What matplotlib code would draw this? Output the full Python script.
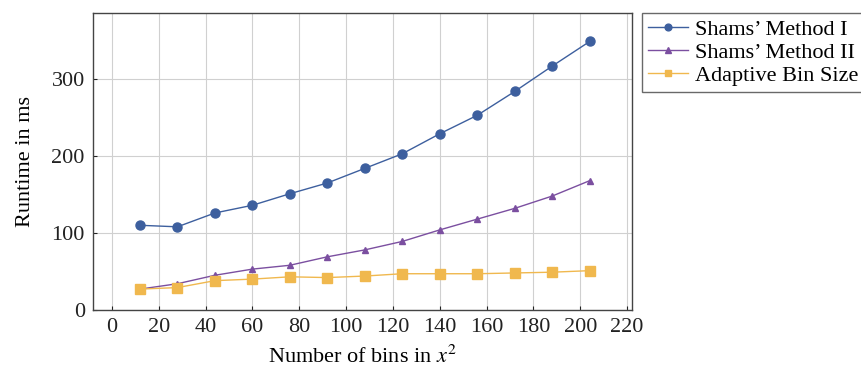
import matplotlib
matplotlib.use("Agg")
import matplotlib.pyplot as plt

bins = [12, 28, 44, 60, 76, 92, 108, 124, 140, 156, 172, 188, 204]
shams1 = [110, 108, 126, 136, 151, 165, 184, 203, 229, 253, 284, 317, 349]
shams2 = [27, 34, 45, 53, 58, 69, 78, 89, 104, 118, 132, 148, 168]
adaptive = [27, 29, 38, 40, 43, 42, 44, 47, 47, 47, 48, 49, 51]
xticks = list(range(0, 221, 20))
yticks = [0, 100, 200, 300]

plt.rcParams['font.family'] = ['Liberation Serif', 'DejaVu Serif']
plt.rcParams['mathtext.fontset'] = 'stix'

fig = plt.figure(figsize=(8.62, 3.72), dpi=100)
ax = fig.add_axes([0.108, 0.167, 0.625, 0.798])

c1 = '#3d5f9e'
c2 = '#7b4fa0'
c3 = '#f0b84e'
ax.plot(bins, shams1, color=c1, marker='o', markersize=6.5, linewidth=1.0, label="Shams’ Method I")
ax.plot(bins, shams2, color=c2, marker='^', markersize=5, linewidth=1.0, label="Shams’ Method II")
ax.plot(bins, adaptive, color=c3, marker='s', markersize=6.5, linewidth=1.0, label="Adaptive Bin Size")

ax.set_xlim(-8, 222)
ax.set_ylim(0, 386)
ax.set_xticks(xticks)
ax.set_yticks(yticks)
ax.grid(True, color='#d0d0d0', linewidth=0.8)
ax.set_axisbelow(True)
ax.tick_params(labelsize=16, direction='in', length=3, pad=6, colors='#222222')
for s in ax.spines.values():
    s.set_color('#444444')
    s.set_linewidth(1.0)
ax.set_xlabel(r"Number of bins in $x^2$", fontsize=16, labelpad=6)
ax.set_ylabel("Runtime in ms", fontsize=16, labelpad=12)

leg = ax.legend(loc='upper left', bbox_to_anchor=(1.018, 1.0), fontsize=16,
                frameon=True, fancybox=False, edgecolor='#444444',
                handlelength=1.8, borderaxespad=0, labelspacing=0.1,
                handletextpad=0.3, borderpad=0.3, markerscale=0.75)
leg.get_frame().set_linewidth(1.0)

fig.savefig("out.png", dpi=100)
